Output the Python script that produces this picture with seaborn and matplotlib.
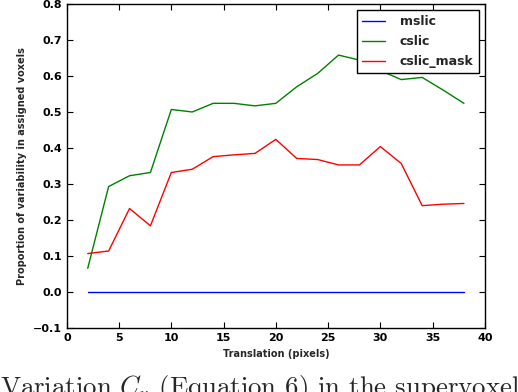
import matplotlib
matplotlib.use("Agg")
import matplotlib.pyplot as plt
import numpy as np
import pandas as pd
import seaborn as sns

sns.set_style("white")
plt.rcParams.update({'font.family'      : ['DejaVu Sans'],
                     'font.size'        : 8,
                     'font.weight'      : 'bold',
                     'xtick.labelsize'  : 8,
                     'ytick.labelsize'  : 8,
                     'xtick.direction'  : 'in',
                     'ytick.direction'  : 'in',
                     'xtick.top'        : True,
                     'ytick.right'      : True,
                     'xtick.bottom'     : True,
                     'ytick.left'       : True,
                     'xtick.major.size' : 4,
                     'ytick.major.size' : 4,
                     'xtick.color'      : 'black',
                     'ytick.color'      : 'black',
                     'axes.edgecolor'   : 'black',
                     'axes.linewidth'   : 1.0,
                     'mathtext.fontset' : 'cm'})

translation = [2, 4, 6, 8, 10, 12, 14, 16, 18, 20, 22, 24, 26, 28, 30, 32, 34, 36, 38]
mslic       = [0.0] * 19
cslic       = [0.066, 0.293, 0.323, 0.332, 0.507, 0.500, 0.524, 0.524, 0.517, 0.524,
               0.570, 0.607, 0.658, 0.644, 0.615, 0.590, 0.596, 0.561, 0.524]
cslic_mask  = [0.107, 0.114, 0.232, 0.184, 0.332, 0.341, 0.376, 0.381, 0.385, 0.424,
               0.371, 0.368, 0.353, 0.353, 0.404, 0.357, 0.240, 0.244, 0.246]
names       = ['mslic', 'cslic', 'cslic_mask']
colors      = ['blue', 'green', 'red']

df = pd.DataFrame({'x'      : translation * 3,
                   'y'      : mslic + cslic + cslic_mask,
                   'method' : np.repeat(names, len(translation))})

fig = plt.figure(figsize=(5.18, 3.92), dpi=100)
ax  = fig.add_axes([0.129, 0.163, 0.807, 0.827])

sns.lineplot(data=df, x='x', y='y', hue='method', hue_order=names,
             palette=dict(zip(names, colors)), linewidth=1.0, ax=ax)

ax.set_xlim(0, 40)
ax.set_ylim(-0.1, 0.8)
ax.set_xticks(np.arange(0, 41, 5))
ax.set_yticks(np.arange(-0.1, 0.81, 0.1))
ax.set_yticklabels([f"{v:.1f}".replace('-', '\u2212') for v in np.arange(-0.1, 0.81, 0.1)])
ax.set_xlabel("Translation (pixels)", fontsize=7, fontweight='bold')
ax.set_ylabel("Proportion of variability in assigned voxels", fontsize=7, fontweight='bold')
for s in ax.spines.values():
    s.set_visible(True)
    s.set_color('black')

leg = ax.legend(loc='upper right', fontsize=9, fancybox=False, frameon=True,
                edgecolor='black', framealpha=1, borderaxespad=0.5,
                handlelength=1.8, handletextpad=1.2, labelspacing=0.55)
leg.get_frame().set_linewidth(1.0)

# caption fragment under the figure (cut off at the bottom edge, as in the source)
fig.text(0.0, -3.5 / 392, r"Variation $C_v$ (Equation 6) in the supervoxel",
         family='cmr10', fontsize=19.3, fontweight='normal', va='baseline', ha='left')

plt.savefig('out.png', dpi=100)
